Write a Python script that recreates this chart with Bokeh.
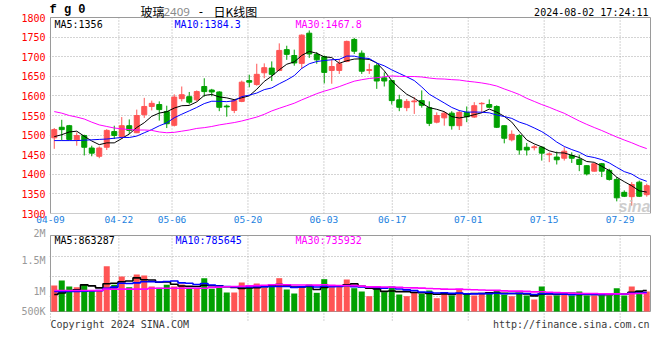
import numpy as np
from bokeh.plotting import figure
from bokeh.models import Range1d, FixedTicker, Label, ColumnDataSource
from bokeh.layouts import column
from bokeh.embed import file_html
from bokeh.resources import INLINE

# ---------------- data ----------------
dates = ["04-09", "04-10", "04-11", "04-12", "04-15", "04-16", "04-17", "04-18", "04-19",
         "04-22", "04-23", "04-24", "04-25", "04-26", "04-29", "04-30",
         "05-06", "05-07", "05-08", "05-09", "05-10", "05-13", "05-14", "05-15", "05-16", "05-17",
         "05-20", "05-21", "05-22", "05-23", "05-24", "05-27", "05-28", "05-29", "05-30", "05-31",
         "06-03", "06-04", "06-05", "06-06", "06-07", "06-11", "06-12", "06-13", "06-14",
         "06-17", "06-18", "06-19", "06-20", "06-21", "06-24", "06-25", "06-26", "06-27", "06-28",
         "07-01", "07-02", "07-03", "07-04", "07-05", "07-08", "07-09", "07-10", "07-11", "07-12",
         "07-15", "07-16", "07-17", "07-18", "07-19", "07-22", "07-23", "07-24", "07-25", "07-26",
         "07-29", "07-30", "07-31", "08-01", "08-02"]

opens = [1493, 1520, 1524, 1488, 1499, 1467, 1446, 1469, 1509, 1496,
         1524, 1506, 1552, 1573, 1578, 1560, 1525, 1593, 1598, 1590,
         1624, 1615, 1610, 1574, 1563, 1586, 1639, 1629, 1659, 1671,
         1665, 1718, 1703, 1683, 1760, 1706, 1700, 1665, 1665, 1688,
         1744, 1709, 1665, 1677, 1646, 1639, 1590, 1570, 1585, 1588,
         1570, 1533, 1544, 1556, 1524, 1558, 1546, 1580, 1578, 1573,
         1524, 1488, 1499, 1469, 1468, 1469, 1450, 1444, 1441, 1448,
         1438, 1422, 1408, 1427, 1410, 1387, 1354, 1343, 1380, 1348]
highs = [1518, 1539, 1526, 1507, 1501, 1473, 1471, 1515, 1524, 1546,
         1540, 1565, 1595, 1588, 1586, 1575, 1604, 1624, 1610, 1614,
         1645, 1618, 1612, 1578, 1592, 1639, 1654, 1682, 1683, 1688,
         1734, 1728, 1718, 1757, 1767, 1712, 1703, 1694, 1694, 1741,
         1748, 1716, 1682, 1682, 1660, 1641, 1603, 1592, 1597, 1614,
         1586, 1558, 1560, 1561, 1563, 1573, 1584, 1584, 1591, 1576,
         1525, 1512, 1503, 1480, 1475, 1472, 1456, 1458, 1469, 1456,
         1450, 1423, 1427, 1429, 1414, 1393, 1359, 1380, 1384, 1376]
lows = [1465, 1486, 1486, 1473, 1448, 1446, 1441, 1462, 1490, 1490,
        1503, 1505, 1544, 1563, 1537, 1518, 1522, 1586, 1578, 1586,
        1598, 1599, 1561, 1547, 1556, 1584, 1622, 1626, 1645, 1638,
        1663, 1692, 1677, 1669, 1697, 1682, 1632, 1631, 1656, 1686,
        1707, 1656, 1656, 1618, 1624, 1578, 1561, 1561, 1554, 1570,
        1523, 1530, 1524, 1514, 1513, 1533, 1544, 1556, 1569, 1518,
        1479, 1484, 1450, 1448, 1461, 1435, 1431, 1425, 1435, 1429,
        1408, 1397, 1407, 1393, 1384, 1331, 1342, 1320, 1342, 1343]
closes = [1514, 1514, 1489, 1499, 1469, 1454, 1467, 1512, 1499, 1524,
          1512, 1550, 1573, 1581, 1565, 1529, 1597, 1603, 1584, 1611,
          1611, 1610, 1571, 1572, 1588, 1635, 1635, 1655, 1672, 1655,
          1716, 1706, 1684, 1755, 1707, 1692, 1660, 1675, 1682, 1739,
          1714, 1663, 1667, 1638, 1638, 1588, 1571, 1586, 1587, 1576,
          1530, 1550, 1556, 1524, 1558, 1547, 1575, 1581, 1571, 1520,
          1492, 1502, 1462, 1462, 1470, 1454, 1452, 1437, 1459, 1441,
          1425, 1401, 1427, 1408, 1387, 1340, 1344, 1374, 1344, 1371]
volume_k = [1054, 1224, 1020, 997, 1088, 884, 884, 1711, 1077, 1360,
            997, 1428, 1394, 1020, 975, 1077, 1020, 1088, 963, 941,
            1303, 941, 1054, 816, 816, 1156, 997, 1122, 975, 1020,
            1303, 918, 782, 997, 1088, 805, 1269, 997, 1054, 1258,
            963, 850, 691, 941, 827, 1020, 748, 691, 805, 771,
            884, 623, 771, 714, 918, 793, 714, 771, 827, 884,
            737, 691, 793, 714, 578, 1020, 714, 714, 771, 714,
            850, 714, 714, 714, 714, 963, 714, 1020, 884, 850]

# moving-average values before a full window exists
ma5_lead = [1496, 1501, 1508, 1510]
ma10_lead = [1486, 1486, 1486, 1486, 1487, 1488, 1489, 1490, 1492]
ma30_lead = [1560, 1556, 1550, 1546, 1541, 1533, 1526, 1522, 1518, 1516,
             1514, 1513, 1513, 1512, 1508, 1506, 1507, 1510, 1513, 1517,
             1519, 1522, 1526, 1529, 1532, 1536, 1541, 1546, 1553]
vma5_lead = [748, 800, 860, 910]
vma10_lead = [849, 849, 849, 849, 860, 870, 880, 960, 1000]
vma30_lead = [884, 884, 884, 884, 884, 884, 884, 930, 930, 930,
              930, 930, 930, 960, 960, 960, 960, 960, 960, 960,
              960, 990, 1000, 1010, 1020, 1030, 1040, 1050, 1060]

tick_dates = ["04-09", "04-22", "05-06", "05-20", "06-03", "06-17", "07-01", "07-15", "07-29"]
price_ticks = [1300, 1350, 1400, 1450, 1500, 1550, 1600, 1650, 1700, 1750, 1800]
vol_tick_labels = ["500K", "1M", "1.5M", "2M"]

title_code = "f g 0"
title_name = "玻璃"
title_contract = "2409"
title_sep = "-"
title_kind = "日K线图"
timestamp = "2024-08-02 17:24:11"
price_header = ["MA5:1356", "MA10:1384.3", "MA30:1467.8"]
vol_header = ["MA5:863287", "MA10:785645", "MA30:735932"]
copyright_text = "Copyright 2024 SINA.COM"
url_text = "http://finance.sina.com.cn"

# ---------------- styling / layout (pixel positions in the page) ----------------
RED = "#ff5454"
GREEN = "#00a000"
MA_COLORS = ["#000000", "#0000ff", "#ff00ff"]
BORDER = "#9a9a9a"
GRID = "#a8a8a8"
MONO = "DejaVu Sans Mono"
CJK = "Noto Sans CJK SC"

W = 660
FRAME_L, FRAME_R = 50, 650        # panel borders
P_TOP, P_BOT = 17, 213            # price panel
V_TOP, V_BOT = 235, 311           # volume panel
P1_H = 227                        # first canvas: 0 .. 227
P2_Y0, P2_H = 227, 105            # second canvas: 227 .. 332

N = len(dates)
XMAX = N - 1
PMIN, PMAX = price_ticks[0], price_ticks[-1]
VOL_PER_PX = 34000
V_ZERO_PX = 316


def gx(px):
    return (px - FRAME_L) * XMAX / (FRAME_R - FRAME_L)


def gp(py):
    return PMAX - (py - P_TOP) * (PMAX - PMIN) / (P_BOT - P_TOP)


def gv(py):
    return (V_ZERO_PX - py) * VOL_PER_PX


def moving_avg(vals, n, lead):
    a = np.asarray(vals, dtype=float)
    return list(lead) + [float(a[i - n + 1:i + 1].mean()) for i in range(n - 1, len(a))]


xc = [(i + 0.5) * XMAX / N for i in range(N)]
px_unit = (FRAME_R - FRAME_L) / XMAX
body_w = 5 / px_unit
colors = [RED if c >= o else GREEN for o, c in zip(opens, closes)]
volumes = [v * 1000 for v in volume_k]
VBASE = gv(V_BOT)

src = ColumnDataSource(dict(
    x=xc, high=highs, low=lows,
    top=[max(o, c) for o, c in zip(opens, closes)],
    bottom=[min(o, c) for o, c in zip(opens, closes)],
    color=colors, vol=volumes,
))

tick_idx = [dates.index(d) for d in tick_dates]
x_range = Range1d(gx(FRAME_L - 1), gx(FRAME_R + 1))


def style_axis(ax):
    ax.axis_line_color = None
    ax.major_tick_line_color = None
    ax.minor_tick_line_color = None
    ax.major_tick_out = 0
    ax.major_tick_in = 0
    ax.minor_tick_out = 0
    ax.minor_tick_in = 0
    ax.major_label_text_font = MONO


def title_label(fig, x, y, text, font, size, color="black", align="left", style="normal"):
    fig.add_layout(Label(x=gx(x), y=gp(y), text=text, text_font=font, text_font_size=size,
                         text_font_style=style, text_color=color,
                         text_baseline="middle", text_align=align))


# ---------------- price panel (frame extends up to the page top for titles) ----------------
p1 = figure(width=W, height=P1_H, output_backend="svg", toolbar_location=None,
            x_range=x_range, y_range=Range1d(PMIN, gp(0)), title=None,
            min_border_left=FRAME_L - 1, min_border_right=W - FRAME_R - 1,
            min_border_top=0, min_border_bottom=P1_H - P_BOT)
p1.outline_line_color = None
p1.background_fill_color = "white"
p1.border_fill_color = "white"

p1.xaxis.ticker = FixedTicker(ticks=tick_idx)
p1.xaxis.major_label_overrides = {i: d for i, d in zip(tick_idx, tick_dates)}
p1.yaxis.ticker = FixedTicker(ticks=price_ticks)
style_axis(p1.xaxis[0])
style_axis(p1.yaxis[0])
p1.xaxis.major_label_standoff = 2
p1.xaxis.major_label_text_font_size = "9.5px"
p1.xaxis.major_label_text_color = "#1b7fe0"
p1.yaxis.major_label_standoff = 4
p1.yaxis.major_label_text_font_size = "10px"
p1.yaxis.major_label_text_color = "#ff0000"

p1.xgrid.visible = False
p1.ygrid.ticker = FixedTicker(ticks=price_ticks[1:-1])
p1.ygrid.grid_line_color = GRID
p1.ygrid.grid_line_dash = "1 2"

# vertical date grid lines, only inside the price panel
p1.segment(x0=tick_idx, y0=[PMIN] * len(tick_idx), x1=tick_idx, y1=[PMAX] * len(tick_idx),
           line_color=GRID, line_dash="1 2", line_width=1)

p1.segment(x0="x", y0="high", x1="x", y1="low", line_color="color", line_width=1, source=src)
p1.vbar(x="x", width=body_w, top="top", bottom="bottom", fill_color="color",
        line_color="color", line_width=1, source=src)

for n, lead, col in zip((5, 10, 30), (ma5_lead, ma10_lead, ma30_lead), MA_COLORS):
    p1.line(xc, moving_avg(closes, n, lead), line_color=col, line_width=1)

# panel border
p1.quad(left=[0], right=[XMAX], bottom=[PMIN], top=[PMAX], fill_color=None,
        line_color=BORDER, line_width=1)

# titles
title_label(p1, 49, 9, title_code, "Liberation Mono", "12px", style="bold")
title_label(p1, 140, 11, title_name, CJK, "12px")
title_label(p1, 163, 11.5, title_contract, "Noto Sans", "11.5px", color="#8a8a8a")
title_label(p1, 200.5, 11, title_sep, "Noto Sans", "12px", align="center")
title_label(p1, 213, 11, title_kind, CJK, "12px")
title_label(p1, 648, 12, timestamp, MONO, "10px", align="right")

for txt, x0, col in zip(price_header, (54, 174, 295), MA_COLORS):
    p1.add_layout(Label(x=gx(x0), y=gp(24), text=txt, text_font=MONO, text_font_size="10px",
                        text_color=col, text_baseline="middle", text_align="left",
                        background_fill_color="white"))

p1.add_layout(Label(x=gx(650), y=gp(206), text="sina", text_font="Liberation Sans",
                    text_font_style="bold italic", text_font_size="16px",
                    text_color="#c4c4c4", text_alpha=0.85,
                    text_baseline="alphabetic", text_align="right"))

# ---------------- volume panel (frame extends down to the footer) ----------------
p2 = figure(width=W, height=P2_H, output_backend="svg", toolbar_location=None,
            x_range=x_range, y_range=Range1d(gv(P2_Y0 + P2_H), gv(P2_Y0)), title=None,
            min_border_left=FRAME_L - 1, min_border_right=W - FRAME_R - 1,
            min_border_top=0, min_border_bottom=0)
p2.outline_line_color = None
p2.background_fill_color = "white"
p2.border_fill_color = "white"
p2.xaxis.visible = False

vt = [gv(y) for y in (311, 291, 260, 230)]
p2.yaxis.ticker = FixedTicker(ticks=vt)
p2.yaxis.major_label_overrides = {t: s for t, s in zip(vt, vol_tick_labels)}
style_axis(p2.yaxis[0])
p2.yaxis.major_label_standoff = 4
p2.yaxis.major_label_text_font_size = "10px"
p2.yaxis.major_label_text_color = "#999999"

p2.xgrid.visible = False
p2.ygrid.ticker = FixedTicker(ticks=[gv(y) for y in (256, 276, 296)])
p2.ygrid.grid_line_color = GRID
p2.ygrid.grid_line_dash = "1 2"
p2.segment(x0=tick_idx, y0=[gv(320)] * len(tick_idx), x1=tick_idx, y1=[gv(V_TOP)] * len(tick_idx),
           line_color=GRID, line_dash="1 2", line_width=1)

p2.quad(left=[0], right=[XMAX], bottom=[gv(V_BOT)], top=[gv(V_TOP)], fill_color=None,
        line_color=BORDER, line_width=1)

p2.vbar(x="x", width=body_w + 1 / px_unit, top="vol", bottom=VBASE, fill_color="color",
        line_color=None, source=src)

for n, lead, col in zip((5, 10, 30), (vma5_lead, vma10_lead, vma30_lead), MA_COLORS):
    vals = [v * 1000 for v in moving_avg(volume_k, n, lead)]
    p2.step(xc, vals, mode="center", line_color=col, line_width=1.6)

for txt, x0, col in zip(vol_header, (54, 175, 295), MA_COLORS):
    p2.add_layout(Label(x=gx(x0), y=gv(239.5), text=txt, text_font=MONO, text_font_size="10px",
                        text_color=col, text_baseline="middle", text_align="left"))

p2.add_layout(Label(x=gx(50), y=gv(323.5), text=copyright_text, text_font=MONO,
                    text_font_size="10px", text_color="#3a3a3a",
                    text_baseline="middle", text_align="left"))
p2.add_layout(Label(x=gx(649), y=gv(323.5), text=url_text, text_font=MONO,
                    text_font_size="10px", text_color="#3a3a3a",
                    text_baseline="middle", text_align="right"))

layout = column(p1, p2, spacing=0)
open("out.html", "w").write(file_html(layout, INLINE))
